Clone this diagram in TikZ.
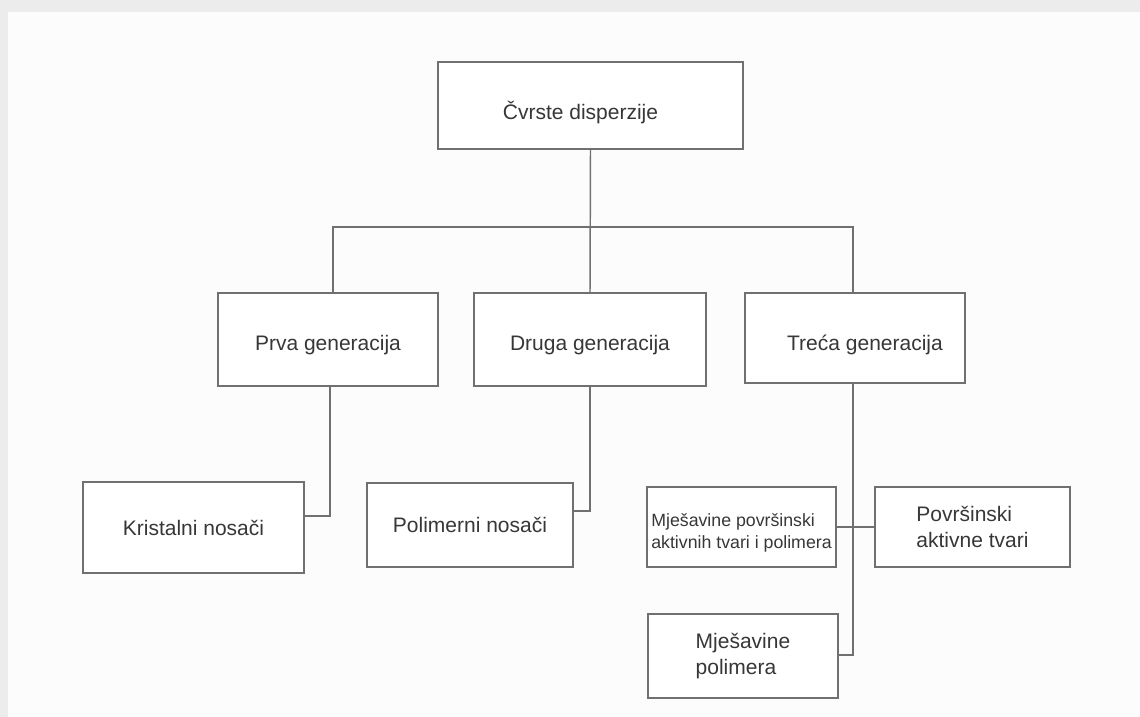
\documentclass[tikz,border=0pt]{standalone}
\usepackage{fontspec}
\setmainfont{Liberation Sans}
\definecolor{linegray}{RGB}{112,112,112}
\definecolor{textgray}{RGB}{55,55,55}
\definecolor{framegray}{RGB}{236,236,236}
% push a line of text a little down inside its box
\newcommand{\lowtext}[2][9pt]{\raisebox{0pt}[\dimexpr\height+#1\relax][\depth]{#2}}
\tikzset{every picture/.style={line width=1.1pt}}
\tikzset{
  box/.style={draw=linegray, fill=white, inner sep=2pt, text=textgray, align=center,
    font=\fontsize{15.75}{19}\selectfont},
  smallbox/.style={box, align=left, font=\fontsize{13.3}{16.5}\selectfont},
  link/.style={draw=linegray}
}

\begin{document}
\begin{tikzpicture}[x=0.75pt,y=0.75pt,yscale=-1,xscale=1]
\useasboundingbox (0,0) rectangle (1140,717);

%Background frame
\fill[framegray] (0,0) rectangle (1140,717);
\fill[white!99!black] (8,12) rectangle (1140,717);

% Text Node
\node[box, minimum width=305*0.75pt, minimum height=87*0.75pt] (root) at (590.5,105.5) {\lowtext[10.5pt]{Čvrste disperzije\hspace*{15pt}}};
% Text Node
\node[box, minimum width=220*0.75pt, minimum height=93*0.75pt] (prva) at (328,339.5) {\lowtext{Prva generacija}};
% Text Node
\node[box, minimum width=232*0.75pt, minimum height=93*0.75pt] (druga) at (590,339.5) {\lowtext{Druga generacija}};
% Text Node
\node[box, minimum width=220*0.75pt, minimum height=90*0.75pt] (treca) at (855,338) {\lowtext[10.5pt]{\hspace*{15pt}Treća generacija}};
% Text Node
\node[box, minimum width=221*0.75pt, minimum height=91*0.75pt] (kristal) at (193.5,527.5) {Kristalni nosači};
% Text Node
\node[box, minimum width=206*0.75pt, minimum height=84*0.75pt] (polimer) at (470,525) {Polimerni nosači};
% Text Node
\node[smallbox, minimum width=189*0.75pt, minimum height=80*0.75pt] (mjesPA) at (741.5,527) {\lowtext{Mješavine površinski}\\aktivnih tvari i polimera};
% Text Node
\node[box, align=left, minimum width=195*0.75pt, minimum height=80*0.75pt] (povrs) at (972.5,527) {Površinski\\aktivne tvari};
% Text Node
\node[box, align=left, minimum width=190*0.75pt, minimum height=84*0.75pt] (mjesPol) at (743,656) {Mješavine\\polimera};

%Connectors
\coordinate (busL) at (333,227);
\coordinate (busR) at (853,227);
\coordinate (krL) at (330,516);
\coordinate (poL) at (590,511);
\coordinate (trL) at (853,655);

\draw[link] (root.south) -- (druga.north);
\draw[link] (busL |- prva.north) -- (busL) -- (busR) -- (busR |- treca.north);
\draw[link] (krL |- prva.south) -- (krL) -- (krL -| kristal.east);
\draw[link] (druga.south) -- (poL) -- (poL -| polimer.east);
\draw[link] (trL |- treca.south) -- (trL) -- (trL -| mjesPol.east);
\draw[link] (mjesPA.east) -- (povrs.west);

\end{tikzpicture}
\end{document}
